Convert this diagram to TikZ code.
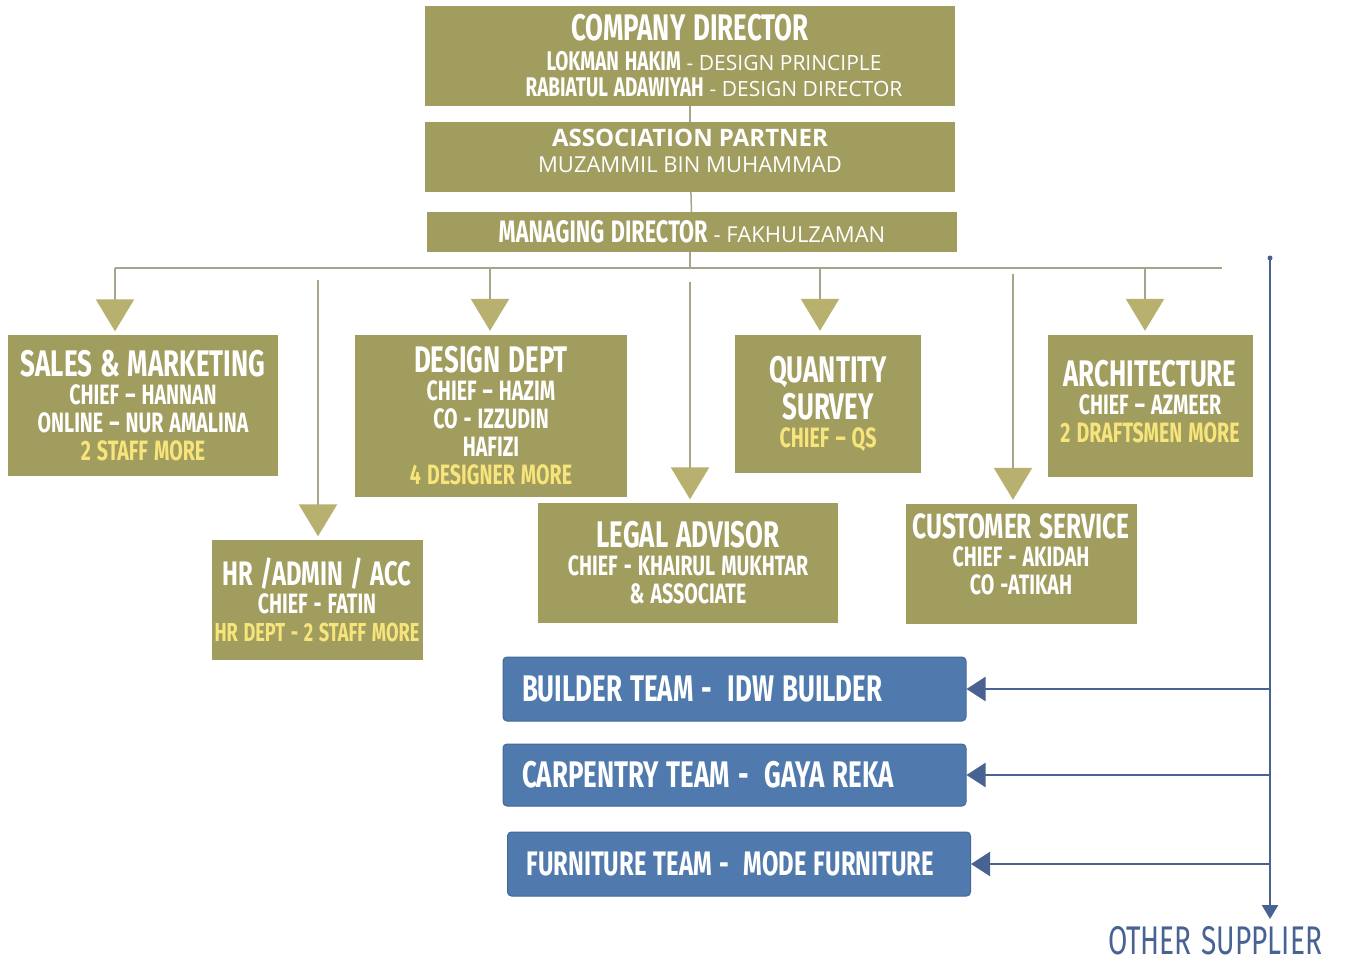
\documentclass[tikz,border=0pt]{standalone}
\usepackage{fontspec}
\setmainfont{Fira Sans}
\newfontfamily\dinfont[FakeStretch=0.70, WordSpace=1.3]{Fira Sans}
\newfontfamily\plainfont{Open Sans}
\usetikzlibrary{arrows.meta,positioning}

\definecolor{deptolive}{RGB}{161,157,95}
\definecolor{dropolive}{RGB}{184,176,110}
\definecolor{linkgrey}{RGB}{168,164,140}
\definecolor{teamblue}{RGB}{80,122,174}
\definecolor{supplyblue}{RGB}{72,98,146}
\definecolor{staffyellow}{RGB}{247,228,122}

\newcommand\depttitle[1]{{\fontsize{37}{37}\selectfont #1}}
\newcommand\plainpart[1]{{\plainfont\mdseries\fontsize{21}{21}\selectfont #1}}
\newcommand\more[1]{\textcolor{staffyellow}{#1}}

\tikzset{
  dept/.style={fill=deptolive, text=white, align=center, inner sep=0pt,
    font=\dinfont\bfseries\fontsize{28}{28}\selectfont},
  team/.style={fill=teamblue, draw=teamblue!85!black, line width=1pt,
    rounded corners=4pt, text=white, align=flush left, text width=425pt,
    inner xsep=19pt, inner ysep=0pt, font=\dinfont\bfseries\fontsize{37}{37}\selectfont},
  link/.style={draw=linkgrey, line width=2.5pt},
  drop/.style={link, -{Triangle[width=38pt,length=32pt,color=dropolive]},
    shorten >=4pt},
  supply/.style={draw=supplyblue, line width=2.5pt,
    -{Triangle[width=24pt,length=19pt,color=supplyblue]}},
}

\begin{document}
\begin{tikzpicture}[x=1pt, y=-1pt]

\fill[white] (0,0) rectangle (1345,965);
\useasboundingbox (0,0) rectangle (1345,965);

% top of the company
\node[dept, minimum width=530, minimum height=100, font=\dinfont\bfseries\fontsize{27}{26}\selectfont] (company) at (690,56)
  {\depttitle{COMPANY DIRECTOR}\\[4pt]
   \hspace*{48pt}LOKMAN HAKIM \plainpart{- DESIGN PRINCIPLE}\\
   \hspace*{48pt}RABIATUL ADAWIYAH \plainpart{- DESIGN DIRECTOR}};
\node[dept, minimum width=530, minimum height=70, font=\plainfont\fontsize{22}{26}\selectfont] (partner) at (690,157)
  {{\bfseries\fontsize{24}{24}\selectfont ASSOCIATION PARTNER}\\ MUZAMMIL BIN MUHAMMAD\\[-14pt]\mbox{}};
\node[dept, minimum width=530, minimum height=40] (managing) at (692,232)
  {{\fontsize{31}{31}\selectfont MANAGING DIRECTOR} \plainpart{\fontsize{22}{22}\selectfont - FAKHULZAMAN}};

% departments
\node[dept, minimum width=270, minimum height=141] (sales) at (143,406)
  {\depttitle{SALES \& MARKETING}\\ CHIEF –\ HANNAN\\ ONLINE – NUR AMALINA\\ \more{2 STAFF MORE}};
\node[dept, minimum width=272, minimum height=162] (design) at (491,416)
  {\depttitle{DESIGN DEPT}\\ CHIEF –\ HAZIM\\ CO - IZZUDIN\\ HAFIZI\\ \more{4 DESIGNER MORE}};
\node[dept, minimum width=186, minimum height=138] (quantity) at (828,404)
  {\depttitle{QUANTITY}\\[4pt] \depttitle{SURVEY}\\ \more{CHIEF – QS}};
\node[dept, minimum width=205, minimum height=142] (architecture) at (1150,406)
  {\depttitle{ARCHITECTURE}\\ CHIEF – AZMEER\\ \more{2 DRAFTSMEN MORE}\\[-18pt]\mbox{}};
\node[dept, minimum width=211, minimum height=119] (hr) at (317,600)
  {{\fontsize{34}{37}\selectfont HR /ADMIN / ACC}\\ CHIEF -\ FATIN\\ {\fontsize{26}{28}\selectfont\more{HR DEPT - 2 STAFF MORE}}};
\node[dept, minimum width=300, minimum height=119] (legal) at (688,563)
  {\depttitle{LEGAL ADVISOR}\\ CHIEF -\ KHAIRUL MUKHTAR\\ \& ASSOCIATE};
\node[dept, minimum width=231, minimum height=120] (customer) at (1021,564)
  {{\fontsize{35}{35}\selectfont CUSTOMER SERVICE}\\ CHIEF -\ AKIDAH\\ CO -ATIKAH\\[-8pt]\mbox{}};

% outside teams
\node[team, minimum height=64] (builder) at (734.5,689) {\mbox{BUILDER TEAM -\ \ IDW BUILDER}};
\node[team, minimum height=62] (carpentry) at (734.5,775) {\mbox{CARPENTRY TEAM -\ \ GAYA REKA}};
\node[team, minimum height=64, font=\dinfont\bfseries\fontsize{34}{34}\selectfont] (furniture) at (739,864)
  {\mbox{FURNITURE TEAM -\ \ MODE FURNITURE}};
\node[text=supplyblue, font=\dinfont\fontsize{40}{40}\selectfont] (other) at (1215,941) {OTHER SUPPLIER};

% chain of command
\draw[link, line width=1.5pt] (company) -- (partner);
\draw[link, line width=1.5pt] (partner) -- (managing);
\coordinate (bus-mid) at (690,268);
\draw[link] (managing.south -| bus-mid) -- (bus-mid);
\draw[link] (115,268) -- (1222,268);

% drops to the departments
\draw[drop] (115,268) -- (115,268 |- sales.north);
\draw[drop] (490,268) -- (490,268 |- design.north);
\draw[drop] (820,268) -- (820,268 |- quantity.north);
\draw[drop] (1145,268) -- (1145,268 |- architecture.north);
\draw[drop] (318,280) -- (318,280 |- hr.north);
\draw[drop] (690,282) -- (690,282 |- legal.north);
\draw[drop] (1013,274) -- (1013,274 |- customer.north);

% suppliers
\coordinate (supply-top) at (1270,258);
\fill[supplyblue] (supply-top) circle (2.5pt);
\draw[supply, -{Triangle[width=16pt,length=14pt,color=supplyblue]}] (supply-top) -- (1270,919);
\foreach \team in {builder, carpentry, furniture}
  \draw[supply, line width=2pt] (supply-top |- \team.east) -- (\team.east);

\end{tikzpicture}
\end{document}
